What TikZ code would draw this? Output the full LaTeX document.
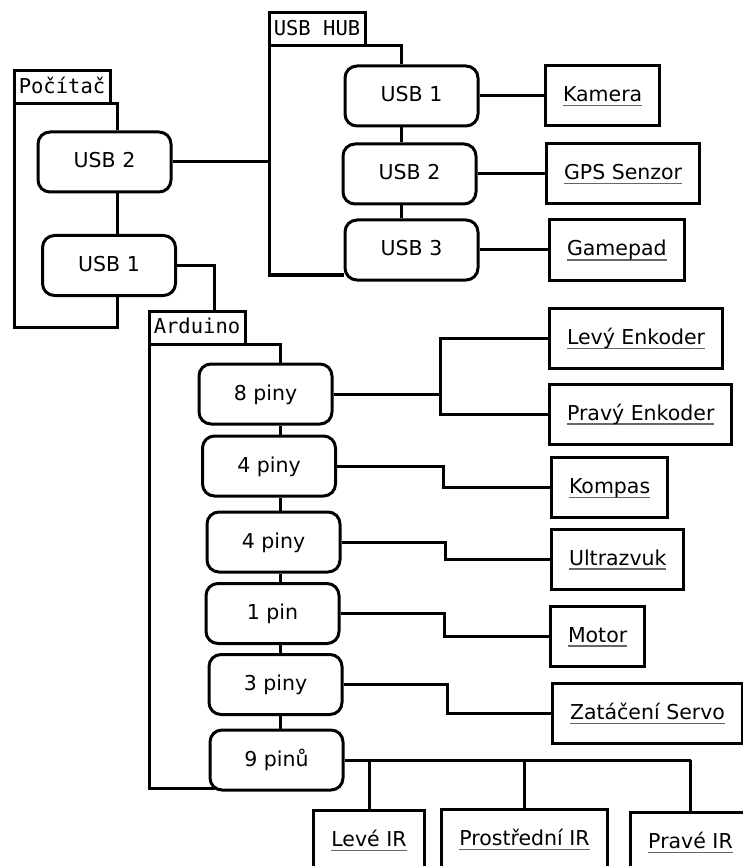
\documentclass[tikz,border=0pt]{standalone}
\usepackage{fontspec}
\setmainfont{DejaVu Sans}
\setmonofont{DejaVu Sans Mono}
\usetikzlibrary{calc}

\newsavebox{\devbox}
\newcommand{\devlabel}[1]{\sbox{\devbox}{#1}\rlap{\smash{\color{black!60}\rule[-4.5pt]{\wd\devbox}{1.4pt}}}\usebox{\devbox}}

\begin{document}
\begin{tikzpicture}[x=1pt,y=-1pt,line width=3pt]
        \tikzstyle{every node}+=[font=\fontsize{20.5}{24}\selectfont, text height=15pt, text depth=3pt]
        \tikzstyle{group}=[draw, font=\ttfamily\fontsize{20.5}{24}\selectfont, minimum width=96pt, minimum height=33pt, inner sep=0pt, outer sep=0pt, anchor=south west]
        \tikzstyle{port}=[draw, rounded corners=12pt, minimum width=133pt, minimum height=60pt]
        \tikzstyle{device}=[draw, minimum height=60pt, inner xsep=17.5pt, anchor=west]
        \tikzstyle{elbow}=[to path={-| ($(\tikztostart)!.5!(\tikztotarget)$) |- (\tikztotarget)}]
        \useasboundingbox (0,0) rectangle (743,866);
        \clip (0,0) rectangle (743,866);
        % computer
        \node [group] (pc) at (14,104) {Počítač};
        \node [port] (pcUsbB) at (104.5,162) {USB 2};
        \node [port] (pcUsbA) at (109,265.5) {USB 1};
        \coordinate (pcEdge) at (117,327);
        \draw (pcUsbB.north -| pcEdge) -- (pc.south west -| pcEdge) -- (pc.south west) -- (pc.south west |- pcEdge) -- (pcEdge) -- (pcUsbA.south -| pcEdge);
        \draw (pcUsbB.south -| pcEdge) -- (pcUsbA.north -| pcEdge);
        % usb hub
        \node [group] (hub) at (269,46) {USB HUB};
        \node [port] (hubA) at (411.5,96) {USB 1};
        \node [port] (hubB) at (409.5,174) {USB 2};
        \node [port] (hubC) at (411.5,250) {USB 3};
        \coordinate (hubEdge) at (401,275);
        \draw (hubA.north -| hubEdge) -- (hub.south west -| hubEdge) -- (hub.south west) -- (hub.south west |- hubEdge) -- (hubC.south west |- hubEdge);
        \foreach \a/\b in {hubA/hubB,hubB/hubC}
            \draw (\a.south -| hubEdge) -- (\b.north -| hubEdge);
        \draw (pcUsbB.east) -- (pcUsbB.east -| hub.south west);
        \node [device] (kamera) at (544,96) {\devlabel{Kamera}};
        \node [device] (gps) at (545,174) {\devlabel{GPS Senzor}};
        \node [device] (gamepad) at (548,250) {\devlabel{Gamepad}};
        \draw (hubA.east) -- (kamera.west);
        \draw (hubB.east) -- (gps.west);
        \draw (hubC.east) -- (gamepad.west);
        % arduino
        \node [group] (ard) at (149,344) {Arduino};
        \coordinate (ardIn) at (214,0);
        \draw (pcUsbA.east) -| (ard.north -| ardIn);
        \node [port] (ardA) at (265.5,394) {8 piny};
        \node [port] (ardB) at (269,466) {4 piny};
        \node [port] (ardC) at (273.5,542) {4 piny};
        \node [port] (ardD) at (272.5,613.5) {1 pin};
        \node [port] (ardE) at (275.5,684.5) {3 piny};
        \node [port] (ardF) at (276.5,760) {9 pinů};
        \coordinate (ardEdge) at (280,788);
        \draw (ardA.north -| ardEdge) -- (ard.south west -| ardEdge) -- (ard.south west) -- (ard.south west |- ardEdge) -- ($(ardF.south west |- ardEdge)+(6,0)$);
        \foreach \a/\b in {ardA/ardB,ardB/ardC,ardC/ardD,ardD/ardE,ardE/ardF}
            \draw (\a.south -| ardEdge) -- (\b.north -| ardEdge);
        \node [device] (levEnc) at (548,338.5) {\devlabel{Levý Enkoder}};
        \node [device] (pravEnc) at (548,414) {\devlabel{Pravý Enkoder}};
        \node [device] (kompas) at (550,487.5) {\devlabel{Kompas}};
        \node [device] (ultra) at (550,559) {\devlabel{Ultrazvuk}};
        \node [device] (motor) at (549,636) {\devlabel{Motor}};
        \node [device] (servo) at (551,713.5) {\devlabel{Zatáčení Servo}};
        \node [device, anchor=north] (levIR) at (369,809) {\devlabel{Levé IR}};
        \node [device, anchor=north] (strIR) at (524.5,808) {\devlabel{Prostřední IR}};
        \node [device, anchor=north] (pravIR) at (690.5,811) {\devlabel{Pravé IR}};
        \draw (ardA.east) to[elbow] (levEnc.west);
        \draw (ardA.east) to[elbow] (pravEnc.west);
        \draw (ardB.east) to[elbow] (kompas.west);
        \draw (ardC.east) to[elbow] (ultra.west);
        \draw (ardD.east) to[elbow] (motor.west);
        \draw (ardE.east) to[elbow] (servo.west);
        \draw (ardF.east) -- (ardF.east -| pravIR.north);
        \foreach \ir in {levIR,strIR,pravIR}
            \draw (ardF.east -| \ir.north) -- (\ir.north);
\end{tikzpicture}
\end{document}
